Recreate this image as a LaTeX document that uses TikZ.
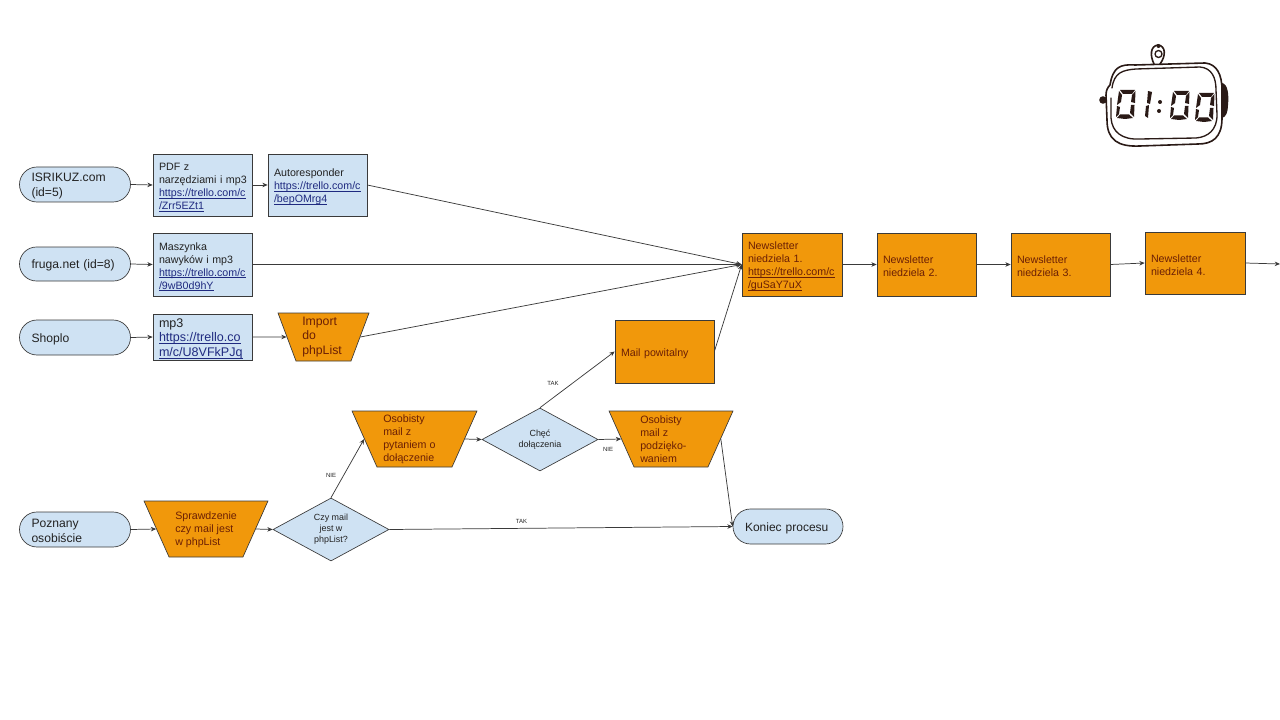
\documentclass[tikz,border=0pt]{standalone}
\usepackage{fontspec}
\setmainfont{Liberation Sans}
\usetikzlibrary{shapes.geometric,arrows.meta}
\definecolor{pblue}{HTML}{CFE2F3}
\definecolor{porange}{HTML}{F1980B}
\definecolor{pline}{HTML}{3A3A3A}
\definecolor{plink}{HTML}{1F2A80}
\definecolor{ptxt}{HTML}{222222}
\definecolor{pdark}{HTML}{6B1F05}
\definecolor{wink}{HTML}{2A1A16}
\newsavebox\lnkbox
\newcommand\lnk[1]{\sbox\lnkbox{#1}\mbox{\rlap{\rule[-1.3pt]{\wd\lnkbox}{0.45pt}}\usebox\lnkbox}}
\newcommand\fs[2]{\fontsize{#1}{#2}\selectfont}
\newcommand\segdigit[2]{\begin{scope}[shift={(#1,#2)}]
\fill[wink] (3,0)--(18,0)--(15,4)--(6,4)--cycle;
\fill[wink] (2,1)--(5,5)--(4,12)--(0,15)--cycle;
\fill[wink] (18.5,1)--(18,13)--(14,12)--(15,5)--cycle;
\fill[wink] (0,16)--(3,17)--(2,24)--(-1,27)--cycle;
\fill[wink] (14,15)--(17.5,15)--(17,27)--(13,23)--cycle;
\fill[wink] (0,28)--(3,24.5)--(12,24.5)--(16,28)--(8,29)--cycle;
\end{scope}}
\tikzset{
 x=0.75pt,y=-0.75pt,
 every node/.style={font=\fs{8}{9.7}, text=ptxt},
 tstrut/.style={execute at begin node={\rule{0pt}{9pt}}},
 conn/.style={draw=pline,line width=0.55pt,-{Stealth[length=4pt,width=3.4pt]}},
 boxb/.style 2 args={tstrut,draw=pline,line width=0.5pt,fill=pblue,rectangle,minimum width=#1*0.75pt,minimum height=#2*0.75pt,inner sep=0pt,inner xsep=4.5pt,text width=#1*0.75pt-9pt,align=left},
 boxo/.style 2 args={boxb={#1}{#2},fill=porange,text=pdark},
 pill/.style 2 args={tstrut,draw=pline,line width=0.5pt,fill=pblue,rectangle,rounded corners=#2*0.375pt,minimum width=#1*0.75pt,minimum height=#2*0.75pt,inner sep=0pt,inner xsep=9pt,text width=#1*0.75pt-18pt,align=left,font=\fs{9.1}{11.2}},
 trap/.style n args={3}{draw=pline,line width=0.5pt,fill=porange,trapezium,trapezium stretches=true,shape border rotate=180,minimum width=#1*0.75pt,minimum height=#2*0.75pt,inner sep=0pt,trapezium angle=#3},
 traptxt/.style={tstrut,anchor=west,align=left,inner sep=0pt,text=pdark},
 dia/.style={tstrut,draw=pline,line width=0.5pt,fill=pblue,diamond,aspect=1.84,minimum width=87pt,minimum height=47.25pt,inner sep=0pt,align=center,font=\fs{6.7}{8.3}},
 lab/.style={font=\fs{4.5}{5},inner sep=0pt},
}
\newcommand\trapfill{\phantom{\rule{5pt}{5pt}}}
\begin{document}
\begin{tikzpicture}
\useasboundingbox (0,0) rectangle (1280,720);
% source row 1
\node[pill={111}{35}] (isr) at (75,184.5) {ISRIKUZ.com\\(id=5)};
\node[boxb={99}{62}] (pdf) at (202.5,185) {PDF z\\\mbox{narzędziami i mp3}\\\textcolor{plink}{\lnk{https://trello.com/c}}\\\textcolor{plink}{\lnk{/Zrr5EZt1}}};
\node[boxb={99}{62}] (auto) at (317.5,185) {Autoresponder\\\textcolor{plink}{\lnk{https://trello.com/c}}\\\textcolor{plink}{\lnk{/bepOMrg4}}};
% row 2
\node[pill={111}{34}] (fru) at (75,264) {fruga.net (id=8)};
\node[boxb={99}{63}] (msz) at (202.5,264.5) {Maszynka\\nawyków i mp3\\\textcolor{plink}{\lnk{https://trello.com/c}}\\\textcolor{plink}{\lnk{/9wB0d9hY}}};
% row 3
\node[pill={111}{35}] (sho) at (75,337.5) {Shoplo};
\node[boxb={99}{46},font=\fs{9.4}{11}] (mp3) at (202.5,337) {mp3\\\textcolor{plink}{\lnk{https://trello.co}}\\\textcolor{plink}{\lnk{m/c/U8VFkPJq}}};
\node[trap={91}{48}{71.9}] (imp) at (323.5,337) {\trapfill};
\node[traptxt,font=\fs{9.2}{11}] (impt) at (302,337) {Import\\do\\phpList};
% newsletters
\node[boxo={100}{63}] (n1) at (792,264.5) {Newsletter\\niedziela 1.\\\lnk{https://trello.com/c}\\\lnk{/guSaY7uX}};
\node[boxo={99}{63}] (n2) at (926.5,264.5) {Newsletter\\niedziela 2.};
\node[boxo={99}{63}] (n3) at (1060.5,264.5) {Newsletter\\niedziela 3.};
\node[boxo={100}{62}] (n4) at (1195,263) {Newsletter\\niedziela 4.};
\coordinate (out) at (1280,264);
% lower flow
\node[boxo={99}{63}] (mp) at (664.5,351.5) {Mail powitalny};
\node[trap={125}{56}{71.6}] (o1) at (414.5,439) {\trapfill};
\node[traptxt] (o1t) at (383,439) {Osobisty\\mail z\\pytaniem o\\dołączenie};
\node[dia] (chec) at (540,439.5) {Chęć\\dołączenia};
\node[trap={124}{56}{71.3}] (o2) at (671,439) {\trapfill};
\node[traptxt] (o2t) at (640,439) {Osobisty\\mail z\\podzięko-\\waniem};
\node[pill={110}{35},font=\fs{9}{11}] (kon) at (788,526.5) {Koniec procesu};
\node[pill={111}{35}] (poz) at (75,529.5) {Poznany\\osobiście};
\node[trap={124}{56}{71.3}] (spr) at (206,529) {\trapfill};
\node[traptxt] (sprt) at (175,530) {Sprawdzenie\\czy mail jest\\w phpList};
\node[dia] (czy) at (331,529.5) {Czy mail\\jest w\\phpList?};
% connectors
\draw[conn] (isr.east) -- (pdf.west);
\draw[conn] (pdf.east) -- (auto.west);
\draw[conn] (fru.east) -- (msz.west);
\draw[conn] (sho.east) -- (mp3.west);
\draw[conn] (mp3.east) -- (imp.west);
\draw[conn] (auto.east) -- (n1.west);
\draw[conn] (msz.east) -- (n1.west);
\draw[conn] (imp.east) -- (n1.west);
\draw[conn] (mp.east) -- (n1.west);
\draw[conn] (n1.east) -- (n2.west);
\draw[conn] (n2.east) -- (n3.west);
\draw[conn] (n3.east) -- (n4.west);
\draw[conn] (n4.east) -- (out);
\draw[conn] (poz.east) -- (spr.west);
\draw[conn] (spr.east) -- (czy.west);
\draw[conn] (czy.north) -- (o1.west);
\draw[conn] (o1.east) -- (chec.west);
\draw[conn] (chec.north) -- (mp.west);
\draw[conn] (chec.east) -- (o2.west);
\draw[conn] (czy.east) -- (kon.west);
\draw[conn] (o2.east) -- (kon.west);
% labels
\node[lab] (l1) at (331,475) {NIE};
\node[lab] (l2) at (553,383) {TAK};
\node[lab] (l3) at (608,449) {NIE};
\node[lab] (l4) at (521.5,521.5) {TAK};
% watch
\begin{scope}[draw=wink,line cap=round,line join=round]
\draw[line width=1.2pt] (1110,85) .. controls (1113,67) and (1120,64) .. (1135,65) -- (1205,63) .. controls (1217,64) and (1222,75) .. (1222,90) -- (1222,118) .. controls (1222,138) and (1212,144) .. (1198,144) -- (1140,146) .. controls (1118,147) and (1107,140) .. (1107,120) -- (1106,95) .. controls (1106,90) and (1108,87) .. (1110,85);
\draw[line width=1pt] (1112,88) .. controls (1114,73) and (1122,70) .. (1136,69) -- (1200,67) .. controls (1212,68) and (1216,78) .. (1216,90) -- (1217,115) .. controls (1217,130) and (1208,137) .. (1196,138) -- (1140,139) .. controls (1122,140) and (1112,132) .. (1111,118) -- (1111,98);
\draw[line width=1.2pt] (1154,64) .. controls (1150,56) and (1150,46) .. (1158,45) .. controls (1166,46) and (1166,56) .. (1160,64);
\draw[line width=1pt] (1158.5,54) circle[radius=3.5];
\fill[wink] (1158.5,46) circle[radius=2];
\fill[wink] (1103,100) circle[radius=3.8];
\fill[wink] (1222,83) .. controls (1228,84) and (1229,95) .. (1228,105) .. controls (1228,112) and (1226,117) .. (1222,118) -- cycle;
\end{scope}
\segdigit{1117}{90}
\fill[wink] (1148,91)--(1152,92)--(1150,104)--(1147,103)--cycle;
\fill[wink] (1146,106)--(1149,105)--(1148,118)--(1145,116)--cycle;
\fill[wink] (1160,102) circle[radius=2];
\fill[wink] (1159,111) circle[radius=2];
\segdigit{1171}{91}
\segdigit{1196}{93}
\end{tikzpicture}
\end{document}
